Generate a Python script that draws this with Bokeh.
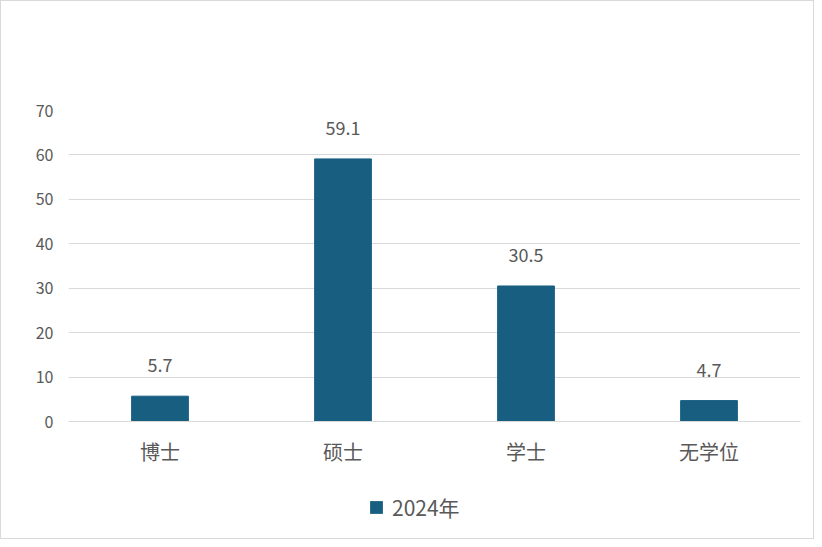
from bokeh.plotting import figure
from bokeh.layouts import column
from bokeh.models import ColumnDataSource, Legend, LegendItem, SingleIntervalTicker, Range1d
from bokeh.core.properties import value
from bokeh.embed import file_html
from bokeh.resources import INLINE

categories = ["博士", "硕士", "学士", "无学位"]
values = [5.7, 59.1, 30.5, 4.7]
labels = ["5.7", "59.1", "30.5", "4.7"]
series_name = "2024年"

FONT = "Noto Sans CJK SC"
BAR = "#185E81"
GRID = "#D9D9D9"
TXT = "#595959"

src = ColumnDataSource(dict(cat=categories, val=values, lab=labels))

p = figure(x_range=categories, y_range=(0, 70), width=812, height=477,
           output_backend="svg", toolbar_location=None,
           min_border_left=67, min_border_right=13, min_border_top=109,
           min_border_bottom=57)

bars = p.vbar(x="cat", top="val", width=0.31, source=src, color=BAR)
p.text(x="cat", y="val", text="lab", source=src, text_align="center",
       text_baseline="bottom", y_offset=-24, text_font=value(FONT),
       text_font_size="18px", text_color=TXT)

p.outline_line_color = None
p.xgrid.grid_line_color = None
p.ygrid.grid_line_color = GRID
p.yaxis.ticker = SingleIntervalTicker(interval=10)
p.yaxis.axis_line_color = None
p.yaxis.major_tick_line_color = None
p.yaxis.minor_tick_line_color = None
p.yaxis.major_label_standoff = 9
p.yaxis.major_label_text_font = FONT
p.yaxis.major_label_text_font_size = "16px"
p.yaxis.major_label_text_color = TXT

p.xaxis.axis_line_color = GRID
p.xaxis.major_tick_line_color = None
p.xaxis.minor_tick_line_color = None
p.xaxis.major_label_standoff = 9
p.xaxis.major_label_text_font = FONT
p.xaxis.major_label_text_font_size = "20px"
p.xaxis.major_label_text_color = TXT

# legend strip
lg = figure(width=812, height=60, output_backend="svg", toolbar_location=None,
            x_range=Range1d(0, 1), y_range=Range1d(0, 1),
            x_axis_location=None, y_axis_location=None,
            min_border_left=67, min_border_right=13, min_border_top=0,
            min_border_bottom=3)
lg.outline_line_color = None
lg.xgrid.grid_line_color = None
lg.ygrid.grid_line_color = None
key = lg.vbar(x=[-1.0], top=[0.0], width=0.01, fill_color=BAR, line_color=None)
legend = Legend(items=[LegendItem(label=series_name, renderers=[key])],
                location=(300, 13), orientation="horizontal",
                label_text_font=FONT, label_text_font_size="21px",
                label_text_color=TXT, glyph_width=16, glyph_height=16,
                label_height=30,
                border_line_color=None, background_fill_alpha=0,
                margin=0, padding=0, label_standoff=8)
lg.add_layout(legend, "center")

layout = column(p, lg, spacing=0)
layout.styles = {"border": "1px solid #D9D9D9"}

open("out.html", "w").write(file_html(layout, INLINE))
